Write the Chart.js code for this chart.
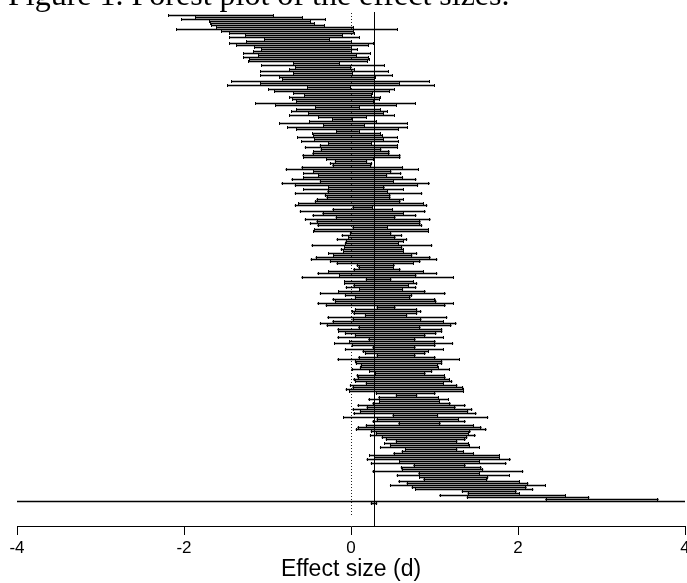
<!DOCTYPE html>
<html>
<head>
<meta charset="utf-8">
<script src="https://cdn.jsdelivr.net/npm/chart.js@4.4.0/dist/chart.umd.min.js"></script>
<style>
  html, body { margin: 0; padding: 0; background: #fff; overflow: hidden; }
  #wrap { position: relative; width: 687px; height: 583px; }
  #caption { position: absolute; left: 8px; top: -22px; font-family: "Liberation Serif", serif; font-size: 32px; line-height: 32px; white-space: nowrap; color: #000; }
</style>
</head>
<body>
<div id="wrap">
  <canvas id="forestChart" width="687" height="583"></canvas>
  <div id="caption">Figure 1. Forest plot of the effect sizes.</div>
</div>
<script>
// lower / upper CI limit of each study, top row first
const studyLow = [
  -2.18,-1.86,-2.02,-1.69,-1.68,-1.67,-1.60,-2.08,-1.54,-1.45,-1.26,-1.45,-1.03,-1.25,-1.45,-1.37,-1.15,-1.07,-1.16,-1.28,
  -1.10,-1.28,-1.21,-1.22,-0.68,-1.07,-0.66,-0.73,-1.08,-0.68,-1.08,-0.85,-0.81,-1.43,-1.08,-1.47,-0.51,-0.98,-0.91,-0.68,
  -0.55,-0.73,-0.70,-0.65,-1.14,-0.90,-0.42,
  -0.65,-0.71,-0.50,-0.73,-0.38,-0.21,-0.49,-0.85,-0.32,-0.75,-0.65,-0.17,-0.45,-0.44,-0.63,-0.43,-0.59,-0.26,-0.37,-0.55,
  -0.36,-0.45,-0.46,-0.58,-0.57,-0.29,-0.19,-0.25,-0.22,-0.59,-0.78,-0.45,-0.57,-0.39,-0.57,-0.71,-0.37,-0.83,-0.67,-0.27,
  -0.57,-0.28,-0.67,-0.31,-0.29,-0.41,-0.43,-0.63,
  -0.67,0.02,-0.22,-0.61,-0.34,-0.46,-0.18,-0.55,-0.41,-0.49,-0.40,0.02,-0.44,-0.45,-0.01,-0.11,-0.03,-0.17,-0.06,-0.07,
  -0.47,-0.08,-0.12,-0.09,-0.27,-0.21,-0.42,-0.48,-0.25,-0.17,0.07,0.09,0.03,-0.27,-0.40,-0.14,-0.59,0.18,-0.08,-0.08,
  0.03,-0.06,0.10,-0.15,-0.37,-0.07,0.05,-0.22,-0.19,
  -0.40,-0.30,0.31,0.05,0.00,0.03,0.17,-0.28,0.02,-0.22,-0.37,-0.29,0.09,-0.16,-0.15,-0.07,0.05,-0.16,0.21,-0.02,
  -0.20,0.01,0.26,-0.07,0.14,0.17,0.31,0.09,-0.16,0.05,0.06,0.12,0.11,0.00,0.22,0.29,0.07,0.08,0.03,0.05,
  0.18,-0.01,0.02,-0.06,-0.02,0.30,0.54,0.33,0.21,
  0.34,0.26,0.08,0.19,0.02,0.11,0.03,0.50,-0.09,0.31,0.26,0.57,0.18,0.08,0.06,0.24,0.30,0.23,0.37,0.42,
  0.54,0.40,0.47,0.35,0.65,0.61,0.51,0.22,0.28,0.19,0.58,0.24,0.75,0.60,0.61,0.26,0.81,0.55,0.82,0.87,
  0.57,0.67,0.47,0.73,0.77,1.33,1.40,1.06,1.39,2.33,
  -4.2
];
const studyHigh = [
  -0.93,-0.59,-0.31,-0.49,-0.44,-0.32,0.02,0.55,0.02,0.03,-0.11,0.10,-0.26,0.00,0.26,0.20,0.00,0.07,0.00,0.23,
  0.06,0.20,0.22,0.19,-0.14,0.40,-0.01,0.03,0.44,0.01,0.49,0.29,0.28,0.93,0.57,0.99,-0.01,0.51,0.46,0.25,
  0.24,0.35,0.33,0.26,0.77,0.54,0.10,
  0.35,0.43,0.38,0.51,0.18,0.01,0.30,0.67,0.16,0.67,0.56,0.09,0.35,0.37,0.55,0.38,0.56,0.24,0.56,0.56,
  0.36,0.46,0.46,0.59,0.59,0.26,0.19,0.25,0.24,0.62,0.81,0.48,0.60,0.43,0.62,0.78,0.51,0.94,0.80,0.40,
  0.63,0.44,0.85,0.47,0.47,0.63,0.59,0.87,
  0.91,0.26,0.50,0.89,0.63,0.78,0.53,0.95,0.83,0.83,0.85,0.44,0.93,0.93,0.48,0.61,0.53,0.67,0.63,0.57,
  0.97,0.61,0.63,0.63,0.79,0.73,0.95,1.03,0.83,0.75,0.52,0.51,0.59,0.87,1.03,0.78,1.23,0.48,0.75,0.79,
  0.69,0.78,0.62,0.89,1.13,0.73,0.71,1.01,1.02,
  1.23,1.13,0.53,0.79,0.84,0.79,0.67,1.15,0.84,1.11,1.26,1.20,0.83,1.09,1.09,1.02,0.89,1.11,0.77,1.01,
  1.22,1.01,0.77,1.11,0.93,0.89,0.77,1.01,1.30,1.09,1.09,1.04,1.05,1.18,0.97,0.89,1.12,1.13,1.18,1.21,
  1.11,1.27,1.34,1.35,1.35,1.01,0.79,1.05,1.17,
  1.06,1.19,1.37,1.25,1.45,1.40,1.50,1.04,1.64,1.29,1.37,1.07,1.47,1.56,1.62,1.43,1.41,1.49,1.39,1.37,
  1.27,1.41,1.42,1.54,1.27,1.35,1.47,1.78,1.78,1.91,1.54,1.86,1.37,1.56,1.58,2.06,1.54,1.90,1.64,1.63,
  2.02,2.12,2.33,2.10,2.18,1.98,2.02,2.57,2.85,3.68,
  4.2
];
const pooledEffect = 0.275;
const pooledLow = 0.24;
const pooledHigh = 0.31;
const xTicks = [-4, -2, 0, 2, 4];

Chart.defaults.font.family = '"Liberation Sans", Arial, sans-serif';
Chart.defaults.color = '#000';

const nStudies = studyLow.length;
const rows = studyLow.map((lo, i) => ({ x: [lo, studyHigh[i]], y: i }));
rows.push({ x: [pooledLow, pooledHigh], y: nStudies });

// little end ticks on every interval
const whiskerCaps = {
  id: 'whiskerCaps',
  afterDatasetsDraw(chart) {
    const { ctx, chartArea } = chart;
    const meta = chart.getDatasetMeta(0);
    ctx.save();
    ctx.beginPath();
    ctx.rect(chartArea.left, chartArea.top, chartArea.right - chartArea.left, chartArea.bottom - chartArea.top);
    ctx.clip();
    ctx.fillStyle = '#000';
    meta.data.forEach(bar => {
      const { x, y, base } = bar.getProps(['x', 'y', 'base'], true);
      ctx.fillRect(Math.round(x) - 1, y - 1.5, 1, 3);
      ctx.fillRect(Math.round(base), y - 1.5, 1, 3);
    });
    ctx.restore();
  }
};

// null line (dotted) and pooled estimate line (solid)
const refLines = {
  id: 'refLines',
  beforeDatasetsDraw(chart) {
    const { ctx, chartArea, scales: { x, y } } = chart;
    const x0 = Math.round(x.getPixelForValue(0)) + 0.5;
    const xp = Math.round(x.getPixelForValue(pooledEffect)) + 0.5;
    ctx.save();
    ctx.lineWidth = 1;
    ctx.strokeStyle = '#222';
    ctx.setLineDash([1, 2]);
    ctx.beginPath();
    ctx.moveTo(x0, chartArea.top + 1);
    ctx.lineTo(x0, y.getPixelForValue(nStudies + 6));
    ctx.stroke();
    ctx.setLineDash([]);
    ctx.strokeStyle = '#000';
    ctx.beginPath();
    ctx.moveTo(xp, chartArea.top);
    ctx.lineTo(xp, chartArea.bottom);
    ctx.stroke();
    ctx.restore();
  }
};

new Chart(document.getElementById('forestChart'), {
  type: 'bar',
  data: {
    datasets: [{
      data: rows,
      backgroundColor: '#000',
      borderWidth: 0,
      barThickness: 1,
      grouped: false
    }]
  },
  options: {
    indexAxis: 'y',
    responsive: false,
    animation: false,
    events: [],
    layout: { padding: { top: 12, left: 17, right: 2, bottom: 0 } },
    plugins: { legend: { display: false }, tooltip: { enabled: false } },
    scales: {
      y: { type: 'linear', reverse: true, offset: false, min: -1.75, max: 255.25, display: false },
      x: {
        type: 'linear',
        min: -4,
        max: 4,
        afterBuildTicks: s => { s.ticks = xTicks.map(v => ({ value: v })); },
        grid: { display: true, drawOnChartArea: false, drawTicks: true, tickLength: 9, color: '#000', lineWidth: 1 },
        border: { display: true, color: '#000', width: 1 },
        ticks: { color: '#000', font: { size: 17 }, padding: 3, maxRotation: 0, autoSkip: false },
        title: { display: true, text: 'Effect size (d)', color: '#000', font: { size: 23 }, padding: { top: 0, bottom: 0 } },
        afterFit: s => { s.height = 57; s.paddingLeft = 0; s.paddingRight = 0; }
      }
    }
  },
  plugins: [refLines, whiskerCaps]
});
</script>
</body>
</html>
